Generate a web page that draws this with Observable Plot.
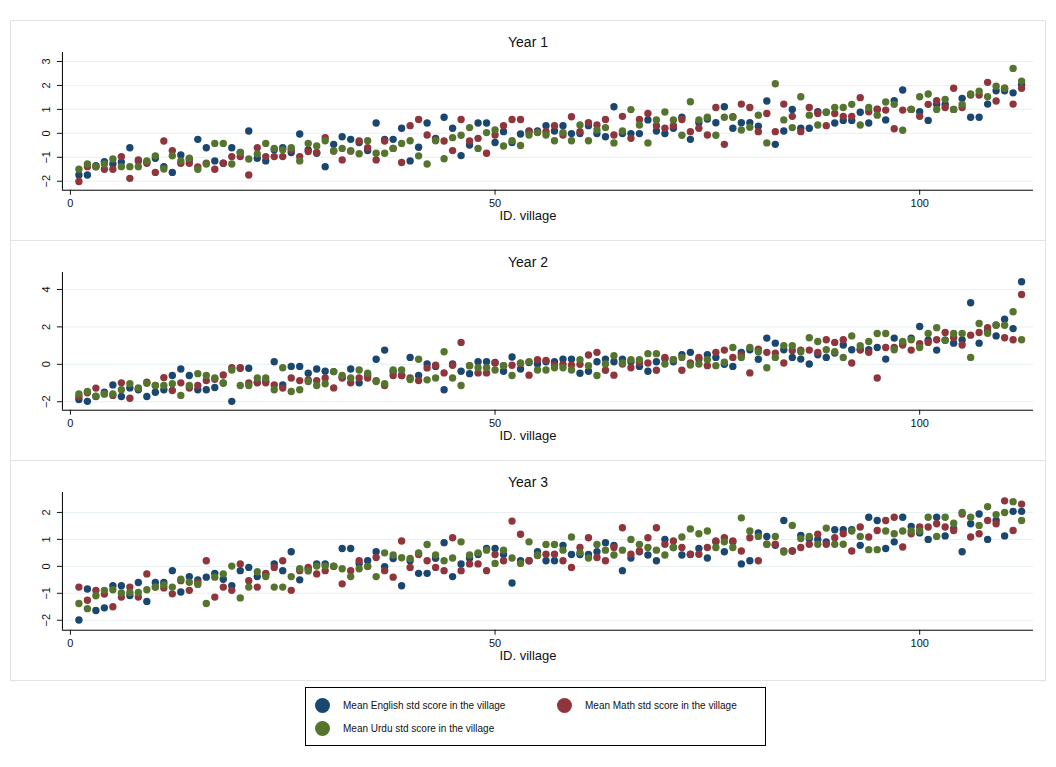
<!DOCTYPE html>
<html><head><meta charset="utf-8">
<script src="https://cdn.jsdelivr.net/npm/d3@7"></script>
<script src="https://cdn.jsdelivr.net/npm/@observablehq/plot@0.6"></script>
<style>
body{margin:0;background:#fff;font-family:"Liberation Sans",Arial,sans-serif;}
#wrap{position:relative;width:1056px;height:767px;background:#fff;}
.panel{position:absolute;left:10px;width:1036px;height:221px;box-sizing:border-box;border:1px solid #dfe4e6;}
.title{position:absolute;left:0;width:100%;text-align:center;top:13px;font-size:14px;color:#111;}
.xlab{position:absolute;left:0;width:100%;text-align:center;font-size:13px;color:#111;}
.panel svg{position:absolute;left:-1px;top:31px;}
#legend{position:absolute;left:305px;top:687px;width:461px;height:59px;box-sizing:border-box;border:1px solid #000;font-size:10px;color:#111;}
.li{position:absolute;display:flex;align-items:center;}
.li span.c{display:inline-block;width:15px;height:15px;border-radius:50%;margin-right:13px;}
</style></head>
<body><div id="wrap"></div>
<script>
const seriesNames = ["Mean English std score in the village","Mean Math std score in the village","Mean Urdu std score in the village"];
const colors = ["#1a476f","#90353b","#55752f"];
const yearLabels = ["Year 1","Year 2","Year 3"];
const xTicks = [0,50,100];
const yTicks1 = [-2,-1,0,1,2,3];
const yTicks2 = [-2,0,2,4];
const yTicks3 = [-2,-1,0,1,2];

const y1English = [-1.74,-1.74,-1.35,-1.18,-1.28,-1.2,-0.6,-1.15,-1.2,-1.04,-1.39,-1.63,-0.9,-1.1,-0.25,-0.6,-1.15,-1.25,-0.6,-0.8,0.1,-1.04,-1.15,-0.69,-0.6,-0.8,-0.03,-0.69,-0.83,-1.39,-0.46,-0.14,-0.25,-0.38,-0.72,0.43,-0.25,-0.25,0.21,-1.15,-0.58,0.43,-0.21,0.67,0.21,-0.93,-0.49,0.43,0.43,-0.38,0.07,-0.38,-0.03,0.1,0.1,0.32,0.1,0.32,-0.01,-0.01,0.32,-0.01,-0.14,1.11,-0.01,-0.01,-0.01,0.56,0.1,-0.01,0.21,0.67,-0.25,0.44,0.6,0.44,1.11,0.21,0.44,0.44,0.3,1.35,-0.46,0.1,1.0,0.21,0.21,0.9,0.88,0.43,0.54,0.54,0.88,0.43,1.01,0.56,1.36,1.81,1.0,0.9,0.54,1.21,1.21,1.0,1.46,0.67,0.67,1.22,1.78,1.78,1.69,2.04];
const y1Math = [-2.01,-1.39,-1.4,-1.5,-1.5,-0.97,-1.88,-1.11,-1.25,-1.63,-0.32,-0.72,-1.25,-1.25,-1.4,-1.25,-1.5,-1.25,-0.97,-0.97,-1.74,-0.6,-0.97,-0.97,-0.97,-0.69,-0.97,-0.76,-0.8,-0.18,-0.74,-1.11,-0.74,-0.32,-0.6,-1.11,-0.32,-0.63,-1.22,0.32,0.58,-0.07,-0.28,-0.32,-0.72,0.58,-0.32,-0.21,-0.83,-0.07,0.32,0.58,0.58,0.07,0.05,0.07,0.32,-0.07,0.69,0.07,0.44,0.35,0.58,-0.07,0.71,-0.21,0.58,0.83,0.32,0.21,0.32,0.58,0.07,0.21,-0.07,1.08,-0.46,0.69,1.22,1.08,0.07,0.83,0.07,1.22,0.71,0.07,1.08,0.83,0.32,0.83,0.71,0.71,1.49,0.9,1.0,0.97,0.19,0.97,1.0,0.71,1.21,1.36,1.08,1.88,1.08,1.6,1.6,2.13,1.35,1.88,1.22,1.88];
const y1Urdu = [-1.5,-1.28,-1.39,-1.28,-1.07,-1.39,-1.39,-1.39,-1.15,-0.94,-1.49,-0.94,-1.15,-1.04,-1.5,-1.28,-0.42,-0.42,-1.28,-0.8,-1.07,-0.86,-0.42,-0.63,-0.69,-0.6,-1.15,-0.42,-0.53,-0.31,-0.74,-0.63,-0.74,-0.85,-0.31,-0.83,-0.83,-0.63,-0.42,-0.31,-0.94,-1.28,-0.31,-1.06,-0.18,-0.08,0.24,-0.63,0.03,0.14,-0.53,-0.31,-0.51,-0.07,0.03,-0.07,-0.31,0.03,-0.31,0.35,-0.31,0.14,0.24,-0.4,0.1,0.99,0.35,-0.4,0.56,0.89,0.56,-0.08,1.32,0.56,0.67,-0.08,0.67,0.67,0.14,0.25,0.76,-0.4,2.07,0.56,0.24,1.53,0.76,0.35,0.88,1.08,1.08,1.21,0.35,1.08,0.76,1.31,1.21,0.13,1.0,1.53,1.64,1.0,1.42,1.0,1.21,1.64,1.76,1.53,1.97,1.88,2.71,2.18];

const y2English = [-1.88,-1.98,-1.72,-1.49,-1.1,-1.72,-1.26,-1.36,-1.72,-1.49,-1.36,-0.6,-0.25,-0.6,-1.36,-1.36,-1.24,-0.99,-1.98,-0.21,-0.21,-0.96,-0.9,0.14,-1.1,-0.11,-0.11,-0.48,-0.25,-0.37,-0.39,-0.7,-0.25,-0.99,-0.6,0.27,0.76,-0.4,-0.6,0.37,-0.6,0.02,-0.11,-1.36,0.02,-0.37,-0.5,0.14,0.14,0.1,-0.37,0.39,-0.25,0.1,0.02,0.14,0.14,0.28,0.28,-0.48,-0.37,0.14,0.28,0.14,0.28,0.14,-0.11,-0.37,0.14,0.3,0.14,0.51,0.64,0.28,0.51,0.37,0.0,-0.11,0.64,0.78,0.27,1.4,1.13,0.78,0.37,0.28,0.02,0.51,0.37,0.6,1.03,0.78,0.8,0.78,0.9,0.28,1.4,1.1,1.4,2.02,1.29,0.76,1.29,1.13,1.3,3.29,1.13,1.79,1.52,2.41,1.91,4.41];
const y2Math = [-1.72,-1.52,-1.27,-1.58,-1.66,-0.99,-1.81,-1.3,-0.96,-1.13,-0.71,-1.4,-0.99,-1.27,-1.13,-0.87,-0.8,-0.57,-0.18,-0.18,-1.0,-0.99,-0.99,-1.1,-1.27,-0.73,-0.87,-0.83,-0.87,-0.73,-1.26,-0.73,-0.99,-0.73,-0.73,-0.87,-1.13,-0.6,-0.6,-0.73,-0.87,-0.19,-0.05,-0.46,-0.05,1.17,-0.07,-0.46,-0.46,0.07,-0.07,-0.05,0.05,-0.58,0.25,0.21,-0.04,0.0,-0.04,0.0,0.5,0.64,-0.32,-0.58,0.02,-0.18,0.1,0.07,-0.32,0.37,0.25,-0.32,0.07,0.37,-0.07,0.64,0.76,0.37,0.5,-0.46,0.81,0.64,0.6,0.07,0.74,0.76,0.76,0.64,1.31,1.17,1.31,0.07,0.76,0.64,-0.73,0.9,0.9,1.03,0.76,1.1,1.17,1.31,1.7,1.42,1.03,1.56,1.7,1.96,2.1,1.42,1.31,3.73];
const y2Urdu = [-1.58,-1.45,-1.7,-1.58,-1.58,-1.36,-1.04,-1.26,-1.01,-1.13,-1.13,-1.04,-1.66,-1.13,-0.5,-0.6,-0.73,-1.01,-0.3,-1.13,-1.13,-0.73,-0.73,-1.36,-0.18,-1.45,-1.36,-0.92,-1.13,-1.04,-0.39,-0.6,-0.73,-0.3,-0.48,-0.92,-1.04,-0.3,-0.3,-0.81,0.27,-0.83,-0.73,0.67,-0.73,-1.13,-0.07,-0.18,-0.18,-0.3,-0.07,-0.6,0.07,0.14,-0.3,-0.3,-0.18,-0.18,-0.3,0.25,-0.07,-0.6,0.02,0.46,0.07,0.25,0.25,0.57,0.57,0.02,0.25,0.37,-0.04,0.02,0.25,-0.07,0.11,0.9,0.37,0.9,0.67,-0.18,0.37,1.0,0.99,0.67,1.42,1.22,0.78,0.67,0.37,1.52,0.99,1.22,1.65,1.65,0.78,1.22,1.31,0.9,1.65,1.96,1.29,1.65,1.65,0.37,2.18,1.66,2.09,2.09,2.81,1.31];

const y3English = [-1.99,-0.84,-1.64,-1.54,-0.72,-0.72,-1.08,-0.6,-1.3,-0.6,-0.6,-0.16,-0.95,-0.38,-0.5,-0.4,-0.26,-0.48,-0.72,-0.16,-0.04,-0.38,-0.3,0.09,-0.16,0.54,-0.5,-0.1,0.09,0.09,0.0,0.66,0.66,0.11,0.21,0.54,-0.01,0.29,-0.72,0.21,-0.26,-0.26,0.3,0.88,-0.38,0.09,0.3,0.44,0.66,0.66,0.44,-0.62,0.21,0.21,0.54,0.21,0.21,0.78,0.44,0.44,0.44,0.54,0.88,0.78,-0.16,0.31,0.54,0.42,0.21,1.0,0.7,0.42,0.44,0.66,0.31,0.91,0.54,0.91,0.09,0.21,1.24,1.11,0.78,1.7,0.57,1.15,1.03,1.0,0.91,1.36,1.36,1.36,0.78,1.82,1.7,0.66,0.91,1.82,1.48,1.24,1.0,1.82,1.13,1.4,0.54,1.58,1.94,1.0,1.7,1.13,2.04,2.04];
const y3Math = [-0.77,-1.26,-0.89,-1.03,-1.5,-1.14,-0.77,-1.14,-0.28,-0.77,-0.8,-1.02,-0.53,-0.89,-0.6,0.21,-1.14,-0.77,-0.89,0.09,-0.53,-0.77,-0.26,-0.04,0.21,-0.89,-0.16,-0.04,-0.28,-0.16,0.0,-0.65,-0.16,0.21,0.0,0.33,-0.16,-0.4,0.94,-0.04,0.44,0.21,-0.04,-0.16,1.06,-0.16,0.09,0.09,-0.16,0.44,0.21,1.68,1.19,0.21,0.4,0.45,0.45,0.21,-0.04,0.7,1.06,0.33,0.21,0.7,1.43,0.45,0.57,1.06,1.43,0.82,0.94,0.7,0.45,0.45,0.7,0.94,1.06,0.94,0.57,1.06,0.21,0.82,0.82,0.57,0.57,0.7,0.82,1.19,0.82,1.06,1.21,0.57,1.46,1.09,1.33,1.7,1.82,0.72,1.21,1.46,1.46,1.58,1.46,1.33,1.94,1.09,1.21,1.7,1.58,2.43,1.33,2.31];
const y3Urdu = [-1.38,-1.57,-1.09,-0.89,-0.87,-0.99,-0.97,-0.97,-0.87,-0.77,-0.69,-0.77,-0.48,-0.59,-0.67,-1.38,-0.4,-0.28,0.01,-1.17,-0.77,-0.2,-0.38,-0.77,-0.77,-0.38,-0.09,-0.17,0.01,0.01,0.01,-0.09,-0.38,-0.09,-0.01,-0.38,0.5,0.42,0.32,0.29,0.5,0.81,0.42,0.21,0.31,0.91,0.42,0.5,0.6,0.11,0.6,0.31,0.11,0.91,0.42,0.81,0.81,0.6,1.09,0.51,0.31,0.81,0.6,0.42,0.6,1.0,0.81,0.7,0.6,0.42,0.7,1.09,1.39,1.21,1.31,0.7,0.91,0.7,1.8,1.31,1.11,0.82,1.11,0.53,1.52,1.03,1.11,0.82,1.42,0.82,0.82,1.31,1.11,0.62,0.62,1.31,1.21,1.31,1.31,1.31,1.82,1.11,1.82,1.6,2.0,1.82,1.52,2.21,1.92,2.0,2.4,1.7];

const years = [
  {series:[y1English,y1Math,y1Urdu], yDomain:[-2.375,3.375], ticks:yTicks1},
  {series:[y2English,y2Math,y2Urdu], yDomain:[-2.453,4.907], ticks:yTicks2},
  {series:[y3English,y3Math,y3Urdu], yDomain:[-2.37,2.74], ticks:yTicks3}
];
const xDomain = [-0.94, 113.4];
const wrap = document.getElementById("wrap");
const tops = [20, 240, 460];

years.forEach((yr, i) => {
  const p = document.createElement("div");
  p.className = "panel";
  p.style.top = tops[i] + "px";
  const t = document.createElement("div");
  t.className = "title"; t.textContent = yearLabels[i];
  p.appendChild(t);
  const marks = [
    Plot.gridY(yr.ticks, {stroke:"#e8f0f2", strokeOpacity:1, strokeWidth:1}),
    Plot.ruleX([xDomain[0]], {stroke:"#000", strokeWidth:1}),
    Plot.ruleY([yr.yDomain[0]], {stroke:"#000", strokeWidth:1}),
    Plot.axisY(yr.ticks, {tickSize:5, tickRotate:-90, tickPadding:7, label:null, fontSize:11}),
    Plot.axisX(xTicks, {tickSize:5, tickPadding:4, label:null, fontSize:11})
  ];
  yr.series.forEach((vals, s) => {
    const d = vals.map((v, k) => ({id:k+1, v}));
    marks.push(Plot.dot(d, {x:"id", y:"v", r:3.7, fill:colors[s], stroke:"none"}));
  });
  const svg = Plot.plot({
    width:1036, height:188, marginTop:0, marginBottom:50, marginLeft:52, marginRight:11,
    x:{domain:xDomain},
    y:{domain:yr.yDomain},
    style:{fontFamily:"'Liberation Sans',Arial,sans-serif", fontSize:"11px", color:"#111", background:"transparent", overflow:"visible"},
    marks
  });
  p.appendChild(svg);
  const xl = document.createElement("div");
  xl.className = "xlab"; xl.textContent = "ID. village";
  xl.style.top = "187px";
  p.appendChild(xl);
  wrap.appendChild(p);
});

const lg = document.createElement("div");
lg.id = "legend";
const pos = [[9,10],[251,10],[9,33]];
seriesNames.forEach((n, s) => {
  const it = document.createElement("div");
  it.className = "li";
  it.style.left = pos[s][0] + "px"; it.style.top = pos[s][1] + "px";
  it.innerHTML = `<span class="c" style="background:${colors[s]}"></span><span>${n}</span>`;
  lg.appendChild(it);
});
wrap.appendChild(lg);
</script></body></html>
